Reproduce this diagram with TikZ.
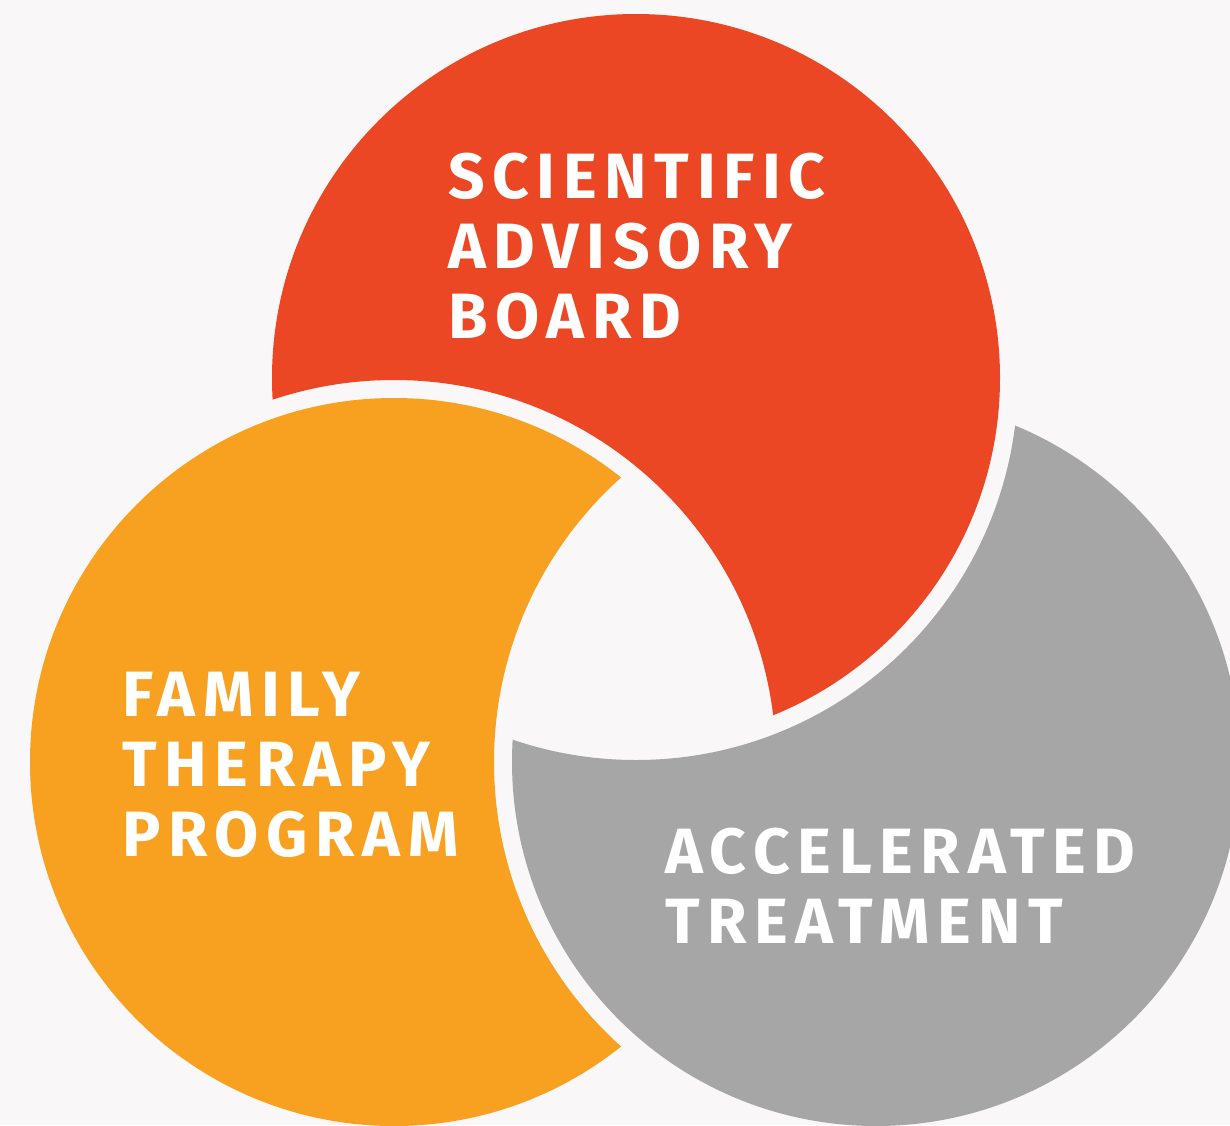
\documentclass[tikz,border=0pt]{standalone}
\usepackage{fontspec}
\newfontfamily\labfont[LetterSpace=12]{Fira Sans}
\definecolor{bgc}{HTML}{F9F7F8}
\definecolor{redc}{HTML}{EC4724}
\definecolor{orac}{HTML}{F8A01F}
\definecolor{grayc}{HTML}{A6A6A6}
\tikzset{
  lab/.style={text=white, font=\labfont\bfseries\fontsize{64}{70}\selectfont,
    align=left, inner sep=0pt, anchor=north west}
}
\begin{document}
\begin{tikzpicture}[x=1pt,y=-1pt]
\fill[bgc] (0,0) rectangle (1230,1125);
\useasboundingbox (0,0) rectangle (1230,1125);
\coordinate (R) at (636,378);
\coordinate (O) at (394,762);
\coordinate (G) at (876,762);
\begin{scope}
  \clip (R) circle[radius=364];
  \fill[redc, even odd rule] (R) circle[radius=420] (O) circle[radius=382];
\end{scope}
\begin{scope}
  \clip (O) circle[radius=364];
  \fill[orac, even odd rule] (O) circle[radius=420] (G) circle[radius=382];
\end{scope}
\begin{scope}
  \clip (G) circle[radius=364];
  \fill[grayc, even odd rule] (G) circle[radius=420] (R) circle[radius=382];
\end{scope}
\node[lab] (sab) at (448,153) {SCIENTIFIC\\ADVISORY\\BOARD};
\node[lab] (ftp) at (122,672) {FAMILY\\THERAPY\\PROGRAM};
\node[lab] (act) at (665,828) {ACCELERATED\\TREATMENT};
\end{tikzpicture}
\end{document}
